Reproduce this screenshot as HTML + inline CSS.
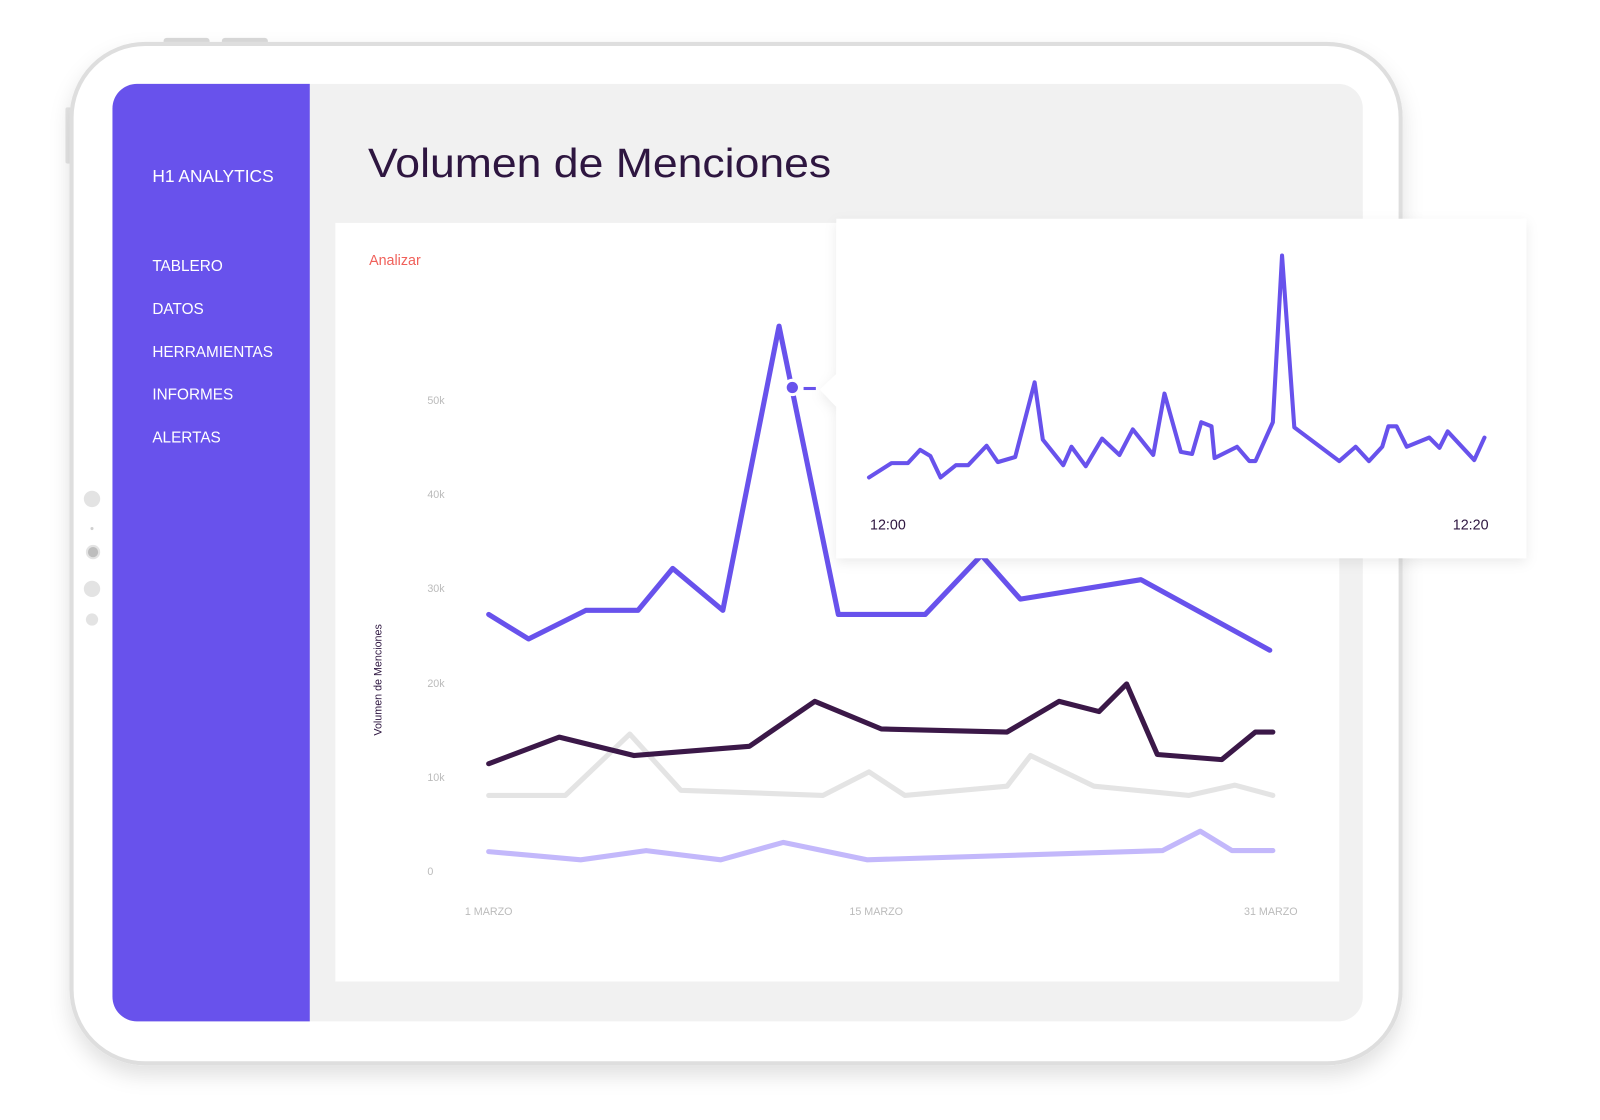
<!DOCTYPE html>
<html><head><meta charset="utf-8"><style>
body{margin:0;width:1600px;height:1120px;background:#fff;overflow:hidden;font-family:"Liberation Sans",sans-serif}
svg{position:absolute;left:0;top:0}
</style></head><body>
<svg width="1600" height="1120" viewBox="0 0 1565 1095.5" xmlns="http://www.w3.org/2000/svg">
<defs>
<filter id="sh" x="-10%" y="-10%" width="120%" height="130%"><feDropShadow dx="0" dy="4" stdDeviation="6" flood-color="#000" flood-opacity="0.08"/></filter>
<filter id="sh2" x="-10%" y="-10%" width="120%" height="130%"><feDropShadow dx="0" dy="10" stdDeviation="10" flood-color="#000" flood-opacity="0.12"/></filter>
</defs>
<rect x="160" y="37" width="45" height="8" rx="3" fill="#d9d9d9"/>
<rect x="217" y="37" width="45" height="8" rx="3" fill="#d9d9d9"/>
<rect x="64" y="105" width="6" height="55" rx="2" fill="#e6e6e6"/>
<rect x="70" y="43" width="1300" height="997" rx="72" fill="#fff" stroke="#dedede" stroke-width="4" filter="url(#sh2)"/>
<circle cx="90" cy="488" r="8" fill="#e3e3e3"/>
<circle cx="90" cy="517" r="1.5" fill="#d0d0d0"/>
<circle cx="91" cy="540" r="6" fill="#bdbdbd" stroke="#e3e3e3" stroke-width="2"/>
<circle cx="90" cy="576" r="8" fill="#e3e3e3"/>
<circle cx="90" cy="606" r="6" fill="#e3e3e3"/>
<rect x="110" y="82" width="1223" height="917" rx="24" fill="#f1f1f1"/>
<path d="M134 82 H303 V999 H134 A24 24 0 0 1 110 975 V106 A24 24 0 0 1 134 82 Z" fill="#6852ec"/>
<g fill="#fff" font-size="15">
<text x="149" y="178" font-size="17">H1 ANALYTICS</text>
<text x="149" y="265">TABLERO</text>
<text x="149" y="307">DATOS</text>
<text x="149" y="349">HERRAMIENTAS</text>
<text x="149" y="391">INFORMES</text>
<text x="149" y="433">ALERTAS</text>
</g>
<text x="360" y="173" font-size="40" fill="#2e1640" textLength="453" lengthAdjust="spacingAndGlyphs">Volumen de Menciones</text>
<rect x="328" y="218" width="982" height="742" fill="#fff"/>
<text x="361" y="259" font-size="14" fill="#f0605a">Analizar</text>
<g fill="#bbb" font-size="10.5">
<text x="418" y="395">50k</text><text x="418" y="487">40k</text><text x="418" y="579">30k</text>
<text x="418" y="672">20k</text><text x="418" y="764">10k</text><text x="418" y="856">0</text>
<text x="478" y="895" text-anchor="middle">1 MARZO</text>
<text x="857" y="895" text-anchor="middle">15 MARZO</text>
<text x="1243" y="895" text-anchor="middle">31 MARZO</text>
</g>
<text transform="translate(373,665) rotate(-90)" font-size="10.5" fill="#2e1640" text-anchor="middle">Volumen de Menciones</text>
<g fill="none" stroke-linecap="round" stroke-linejoin="round" stroke-width="5">
<polyline stroke="#c3b8fb" points="478,833 568,841 632,832 705,841 766,824 848,841 1137,832 1174,813 1205,832 1245,832"/>
<polyline stroke="#e4e4e4" points="478,778 553,778 616,718 666,773 805,778 850,755 885,778 985,769 1008,739 1070,769 1163,778 1208,768 1245,778"/>
<polyline stroke="#3b1848" points="478,747 547,721 620,739 733,730 797,686 862,713 985,716 1036,686 1075,696 1102,669 1132,738 1195,743 1228,716 1245,716"/>
<polyline stroke="#6852ec" points="478,601 517,625 573,597 624,597 658,556 707,597 762,319 820,601 905,601 960,543 998,586 1116,567 1242,636"/>
</g>
<line x1="786" y1="380" x2="798" y2="380" stroke="#6852ec" stroke-width="3"/>
<circle cx="775" cy="379" r="7" fill="#6852ec" stroke="#fff" stroke-width="3"/>
<g filter="url(#sh)">
<path d="M818 214 H1493 V546 H818 V398 L802 381 L818 366 Z" fill="#fff"/>
</g>
<polyline fill="none" stroke="#6852ec" stroke-width="4" stroke-linejoin="round" stroke-linecap="round" points="850,467 872,453 888,453 900,440 910,446 920,467 935,455 947,455 965,436 976,452 993,447 1012,374 1020,430 1040,455 1048,437 1062,456 1078,429 1095,445 1108,420 1128,445 1139,385 1155,442 1166,444 1175,413 1185,417 1188,448 1210,437 1222,451 1228,451 1245,413 1254,250 1266,418 1310,451 1326,437 1339,451 1352,437 1358,417 1366,417 1376,437 1398,428 1408,438 1416,422 1442,450 1452,428"/>
<text x="851" y="518" font-size="14" fill="#2e1640">12:00</text>
<text x="1456" y="518" font-size="14" fill="#2e1640" text-anchor="end">12:20</text>
</svg>
</body></html>
